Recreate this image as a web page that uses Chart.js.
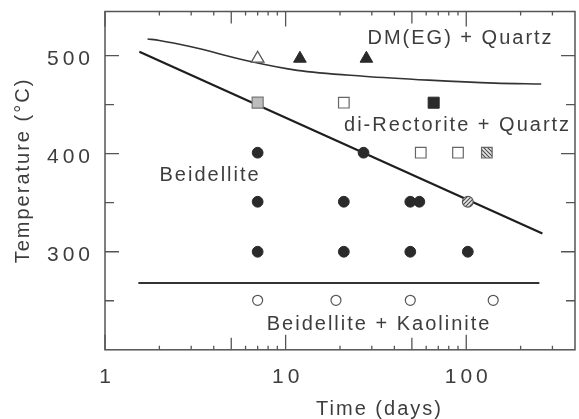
<!DOCTYPE html>
<html>
<head>
<meta charset="utf-8">
<script src="https://cdn.jsdelivr.net/npm/chart.js@4.4.1/dist/chart.umd.min.js"></script>
<style>
  html, body { margin: 0; padding: 0; background: #fff; overflow: hidden; }
  canvas { display: block; }
</style>
</head>
<body>
<canvas id="phaseChart" width="584" height="419"></canvas>
<script>
// Phase boundaries as [days, °C]
const upperBoundary = [[1.72, 517], [2, 515.5], [3, 509], [6.4, 494], [11.6, 485], [27, 479], [62, 475], [144, 472], [260, 471]];
const rectoriteBoundary = [[1.55, 504], [264, 318.6]];
const kaoliniteBoundary = [[1.53, 268], [254, 268]];

// Run products as [days, °C]
const openTriangles = [[7, 497]];
const filledTriangles = [[12, 497], [28, 497]];
const greySquares = [[7, 452]];
const filledSquares = [[66, 452]];
const openSquares = [[21, 452], [56, 401], [90, 401]];
const hatchedSquares = [[130, 401]];
const filledCircles = [[7, 401], [27, 401], [7, 351], [21, 351], [49, 351], [55, 351],
                       [7, 300], [21, 300], [49, 300], [102, 300]];
const hatchedCircles = [[102, 351]];
const openCircles = [[7, 250.5], [19, 250.5], [49, 250.5], [141, 250.5]];

// Axis ticks and labels
const xLabels = [1, 10, 100];
const xMidTicks = [5, 50];
const xMinorTicks = [2, 3, 4, 6, 7, 8, 9, 20, 30, 40, 60, 70, 80, 90, 200, 300];
const yLabels = [300, 400, 500];
const yMinorTicks = [250, 350, 450];

// Field names placed at [days, °C]
const fieldNames = [
  { text: "DM(EG) + Quartz", at: [91.8, 511.5] },
  { text: "di-Rectorite + Quartz", at: [88.4, 423] },
  { text: "Beidellite", at: [3.77, 372] },
  { text: "Beidellite + Kaolinite", at: [32.5, 220.5] }
];

const INK = "#2a2a2a";
const TEXT = "#3d3d3d";
const FONT = '"Liberation Sans", Arial, sans-serif';

function toPoints(arr) {
  return arr.map(p => ({ x: p[0], y: p[1] }));
}

// small striped fill for the hatched symbols
function hatch(dir) {
  const c = document.createElement("canvas");
  c.width = 4; c.height = 4;
  const g = c.getContext("2d");
  g.fillStyle = "#e6e6e6";
  g.fillRect(0, 0, 4, 4);
  g.strokeStyle = "#4a4a4a";
  g.lineWidth = 1.1;
  g.beginPath();
  if (dir > 0) {
    g.moveTo(0, 4); g.lineTo(4, 0);
    g.moveTo(-1, 1); g.lineTo(1, -1);
    g.moveTo(3, 5); g.lineTo(5, 3);
  } else {
    g.moveTo(0, 0); g.lineTo(4, 4);
    g.moveTo(3, -1); g.lineTo(5, 1);
    g.moveTo(-1, 3); g.lineTo(1, 5);
  }
  g.stroke();
  return g.createPattern(c, "repeat");
}

function markers(data, style, radius, bg, border, width) {
  return {
    data: toPoints(data), showLine: false, order: 1,
    pointStyle: style, pointRadius: radius, pointHoverRadius: radius,
    backgroundColor: bg, borderColor: border, borderWidth: width
  };
}

function boundary(data, width, color, tension) {
  return {
    data: toPoints(data), showLine: true, order: 2,
    pointRadius: 0, borderWidth: width, borderColor: color,
    tension: tension, cubicInterpolationMode: tension ? "monotone" : "default"
  };
}

// frame with inward ticks on all four sides
const frame = {
  id: "frame",
  afterDatasetsDraw(chart) {
    const { ctx, chartArea: a, scales: { x, y } } = chart;
    ctx.save();
    ctx.strokeStyle = "#555";
    ctx.lineWidth = 1.5;
    ctx.strokeRect(a.left, a.top, a.right - a.left, a.bottom - a.top);
    ctx.lineWidth = 1.3;
    ctx.beginPath();
    const xt = (v, len) => {
      const px = x.getPixelForValue(v);
      ctx.moveTo(px, a.bottom); ctx.lineTo(px, a.bottom - len);
      ctx.moveTo(px, a.top); ctx.lineTo(px, a.top + len);
    };
    const yt = (v, len) => {
      const py = y.getPixelForValue(v);
      ctx.moveTo(a.left, py); ctx.lineTo(a.left + len, py);
      ctx.moveTo(a.right, py); ctx.lineTo(a.right - len, py);
    };
    xLabels.forEach(v => xt(v, 15));
    xMidTicks.forEach(v => xt(v, 12));
    xMinorTicks.forEach(v => xt(v, 4));
    yLabels.forEach(v => yt(v, 14));
    yMinorTicks.forEach(v => yt(v, 9));
    ctx.stroke();
    ctx.restore();
  },
  afterDraw(chart) {
    const { ctx, scales: { x, y } } = chart;
    ctx.save();
    ctx.fillStyle = TEXT;
    ctx.textBaseline = "alphabetic";

    // tick labels
    ctx.font = "21px " + FONT;
    ctx.letterSpacing = "4px";
    ctx.textAlign = "right";
    yLabels.forEach(v => ctx.fillText(String(v), 94, y.getPixelForValue(v) + 9));
    ctx.textAlign = "center";
    xLabels.forEach(v => ctx.fillText(String(v), x.getPixelForValue(v) + 2, 383));

    // field names and axis titles
    ctx.font = "20px " + FONT;
    ctx.letterSpacing = "2px";
    fieldNames.forEach(f => {
      ctx.fillText(f.text, x.getPixelForValue(f.at[0]) + 1, y.getPixelForValue(f.at[1]));
    });
    ctx.fillText("Time (days)", 379.5, 415);
    ctx.translate(28.5, 171.5);
    ctx.rotate(-Math.PI / 2);
    ctx.fillText("Temperature (°C)", 1, 0);
    ctx.restore();
  }
};

new Chart(document.getElementById("phaseChart"), {
  type: "scatter",
  data: {
    datasets: [
      markers(openTriangles, "triangle", 7.3, "#fff", "#555", 1.3),
      markers(filledTriangles, "triangle", 7.3, INK, INK, 1),
      markers(greySquares, "rect", 7.8, "#bdbdbd", "#777", 1.2),
      markers(filledSquares, "rect", 7.8, INK, INK, 1),
      markers(openSquares, "rect", 7.5, "#fff", "#666", 1.2),
      markers(hatchedSquares, "rect", 7.5, hatch(-1), "#666", 1.2),
      markers(filledCircles, "circle", 5.4, INK, INK, 1),
      markers(hatchedCircles, "circle", 5.4, hatch(1), "#555", 1.2),
      markers(openCircles, "circle", 5, "#fff", "#555", 1.2),
      boundary(upperBoundary, 1.6, "#333", 0.4),
      boundary(rectoriteBoundary, 2.2, "#1e1e1e", 0),
      boundary(kaoliniteBoundary, 2, "#333", 0)
    ]
  },
  options: {
    responsive: false,
    animation: false,
    events: [],
    layout: { padding: { left: 105, right: 3, top: 11.5, bottom: 69.2 } },
    plugins: { legend: { display: false }, tooltip: { enabled: false } },
    scales: {
      x: { type: "logarithmic", min: 1, max: 400, display: false },
      y: { type: "linear", min: 200, max: 545, display: false }
    }
  },
  plugins: [frame]
});
</script>
</body>
</html>
